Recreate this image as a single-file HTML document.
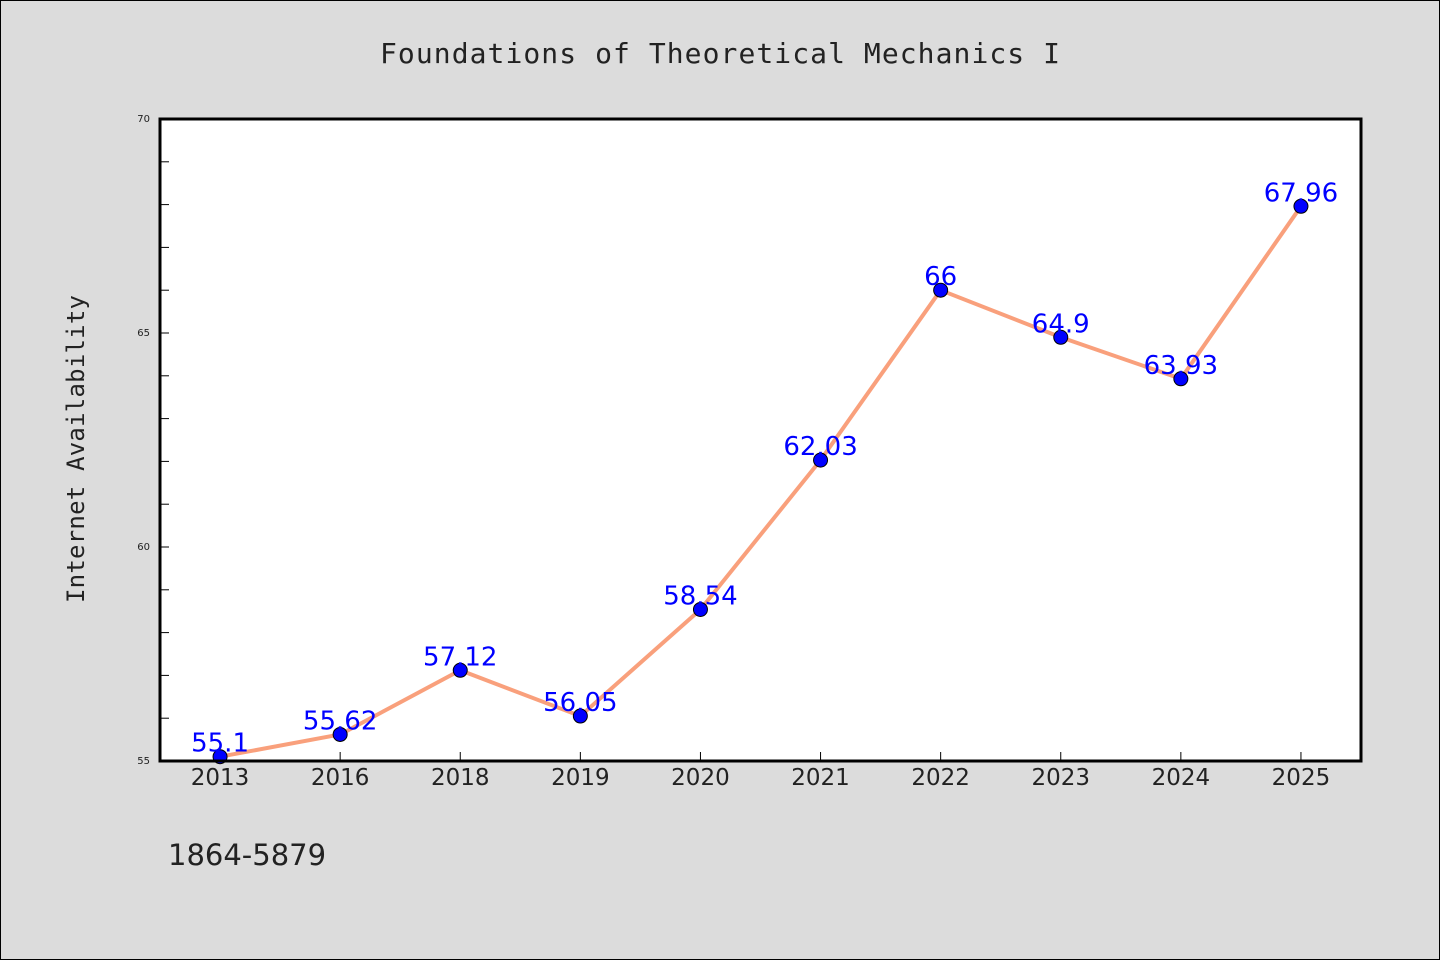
<!DOCTYPE html>
<html><head><meta charset="utf-8"><style>
html,body{margin:0;padding:0;background:#dcdcdc;}
svg{display:block;font-family:"DejaVu Sans","Liberation Sans",sans-serif;}
</style></head><body>
<svg id="chart" width="1440" height="960" viewBox="0 0 1440 960">
<rect x="0.5" y="0.5" width="1439" height="959" fill="#dcdcdc" stroke="#000" stroke-width="1"/>
<text x="720" y="63" text-anchor="middle" font-family="DejaVu Sans Mono, monospace" font-size="28" textLength="680" fill="#222">Foundations of Theoretical Mechanics I</text>
<text transform="translate(84,449) rotate(-90)" text-anchor="middle" font-family="DejaVu Sans Mono, monospace" font-size="24" textLength="308" fill="#222">Internet Availability</text>
<text x="168" y="865" font-size="29" fill="#222">1864-5879</text>
<rect x="160" y="119" width="1201" height="642" fill="#fff"/>
<g id="ticks"></g>
<g id="series"></g>
<rect x="160" y="119" width="1201" height="642" fill="none" stroke="#000" stroke-width="3"/>
</svg>
<script>
const categories = ["2013","2016","2018","2019","2020","2021","2022","2023","2024","2025"];
const values = [55.1,55.62,57.12,56.05,58.54,62.03,66,64.9,63.93,67.96];
const labels = ["55.1","55.62","57.12","56.05","58.54","62.03","66","64.9","63.93","67.96"];
const yTicks = [55,60,65,70];
const yMin = 55, yMax = 70;
const L=160, R=1361, T=119, B=761;
const NS="http://www.w3.org/2000/svg";
const band=(R-L)/categories.length;
function xs(i){return L+band*(i+0.5);}
function ys(v){return B-(v-yMin)/(yMax-yMin)*(B-T);}
function mk(tag,attrs,parent){const e=document.createElementNS(NS,tag);for(const k in attrs)e.setAttribute(k,attrs[k]);parent.appendChild(e);return e;}
const tg=document.getElementById('ticks');
for(let v=yMin;v<=yMax;v++){
  const y=ys(v);
  const t=mk('line',{x1:L,x2:L+9,y1:y,y2:y,stroke:'#000','stroke-width':1},tg);
  
  
}
yTicks.forEach(v=>{
  const t=mk('text',{x:150,y:ys(v)+3,'text-anchor':'end','font-size':10,fill:'#222'},tg);
  t.textContent=v;
  
  
});
categories.forEach((c,i)=>{
  const x=xs(i);
  const t=mk('line',{x1:x,x2:x,y1:B,y2:B-9,stroke:'#000','stroke-width':1},tg);
  
  
  const l=mk('text',{x:x,y:785,'text-anchor':'middle','font-size':23,fill:'#222'},tg);
  l.textContent=c;
  
  
});
const sg=document.getElementById('series');
const pts=values.map((v,i)=>xs(i)+','+ys(v)).join(' ');
const line=mk('polyline',{points:pts,fill:'none',stroke:'#f9a07c','stroke-width':4,'stroke-linejoin':'round'},sg);


values.forEach((v,i)=>{
  const c=mk('circle',{cx:xs(i),cy:ys(v),r:7,fill:'#0000ff',stroke:'#000','stroke-width':1},sg);
  
  
});
values.forEach((v,i)=>{
  const t=mk('text',{x:xs(i),y:ys(v)-5,'text-anchor':'middle','font-size':26,fill:'#0000ff'},sg);
  t.textContent=labels[i];
  
  
});
</script>
</body></html>
